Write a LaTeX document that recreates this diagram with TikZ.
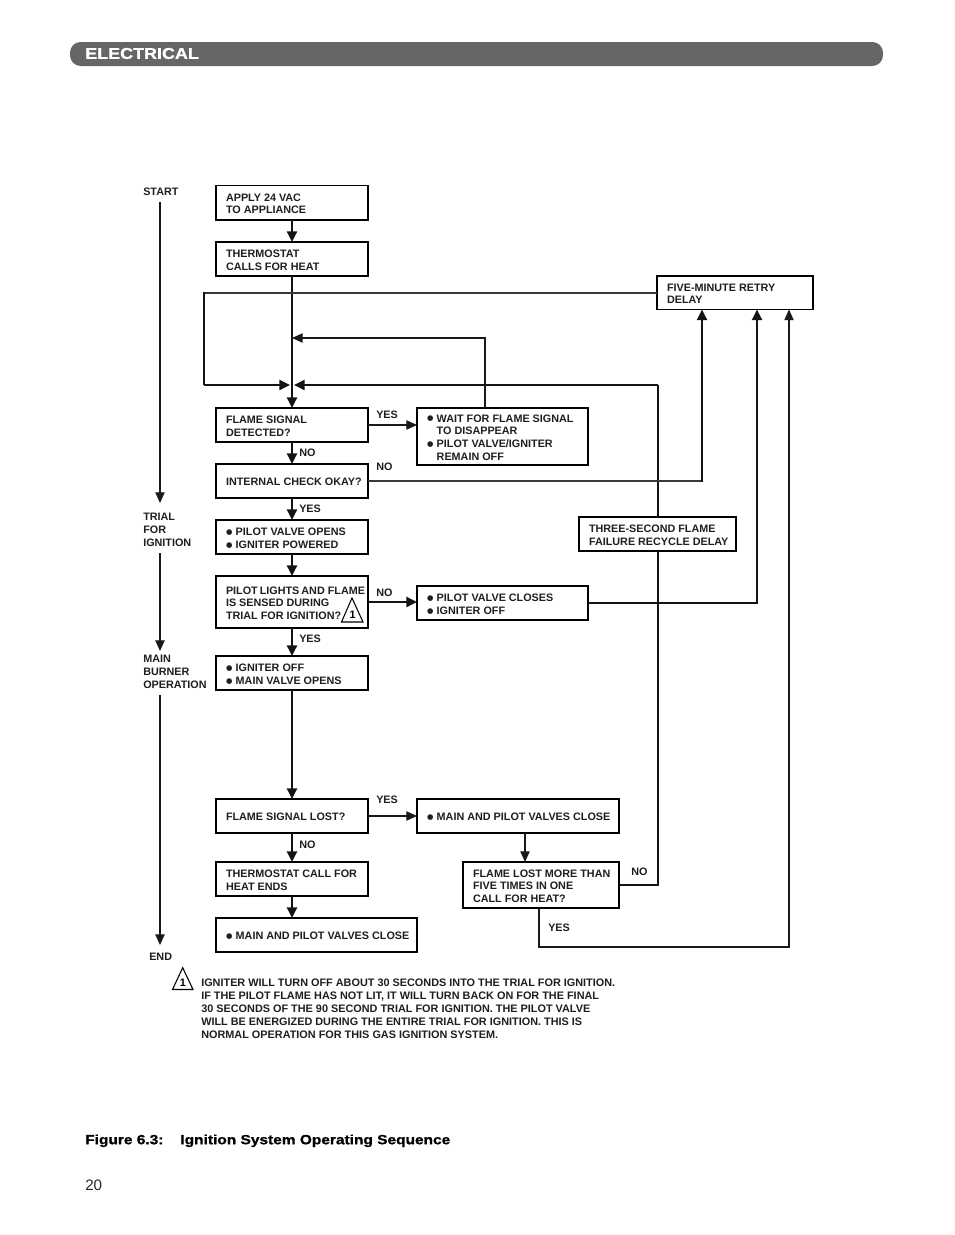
\documentclass[tikz,border=0pt]{standalone}
\usepackage{fontspec}
\setmainfont{Liberation Sans}
\newfontfamily\widefont[FakeStretch=1.15,FakeBold=1.2]{Liberation Sans Bold}
\newfontfamily\capfont[FakeStretch=1.16,FakeBold=1.0]{Liberation Sans Bold}
\newfontfamily\symfont{DejaVu Sans}
\usetikzlibrary{arrows.meta}
\newcommand{\bul}{\makebox[7.3pt][l]{\smash{\raisebox{0.9pt}{\symfont\fontsize{5.5pt}{6pt}\selectfont ●}}}}
\newcommand{\ind}{\hspace*{7.3pt}}
\newcommand{\bx}[7]{\pgfmathsetlengthmacro\bxtw{(#4-#2-20)*0.75pt}%
  \node[boxnode=#6,minimum width=(#4-#2)*0.75pt,minimum height=(#5-#3)*0.75pt] (#1) at ({(#2+#4)/2},{(#3+#5)/2})
  {\raisebox{-3.7pt}[0pt][0pt]{\makebox[\bxtw][l]{\begin{tabular}{@{}l@{}}#7\end{tabular}}}};}
\newcommand{\lbl}[4]{\node[lab] (#1) at (#2,#3) {#4};}
\tikzset{
  x=0.75pt,y=-0.75pt,
  every node/.style={font=\fontsize{8.1pt}{9.6pt}\selectfont\bfseries},
  boxnode/.style={draw=black,line width=#1,fill=white,inner sep=0pt,outer sep=0pt,text=black!88},
  lab/.style={anchor=west,inner sep=0pt,align=left,text=black!88},
  heavy/.style={line width=1.75pt,draw=black!92},
  heavyarrow/.style={heavy,-{Triangle[length=8pt,width=7.5pt]}},
  mid/.style={line width=1.5pt,draw=black!78},
  light/.style={line width=0.8pt,draw=black!90},
  lightarrow/.style={light,-{Triangle[length=8pt,width=7pt]}},
  tri/.style={line width=0.8pt,draw=black,line join=miter},
}
\begin{document}
\begin{tikzpicture}
\useasboundingbox[fill=white] (0,0) rectangle (954,1235);
% header
\node[fill=black!60,rounded corners=8pt,minimum width=813*0.75pt,minimum height=24*0.75pt,inner sep=0pt] (bar) at (476.5,54) {};
\node[anchor=west,inner sep=0pt,text=white,font=\widefont\fontsize{11.7pt}{15pt}\selectfont] (title) at (85,53.5) {ELECTRICAL};

% connector coordinates
\coordinate (startA) at (160,202);
\coordinate (startB) at (160,503);
\coordinate (trialA) at (160,553);
\coordinate (trialB) at (160,651);
\coordinate (mainA) at (160,695);
\coordinate (mainB) at (160,945);
\coordinate (jTop) at (292,338);
\coordinate (loopL) at (204,292.5);
\coordinate (loopLb) at (204,385);
\coordinate (waitOut) at (485,408);
\coordinate (threeTop) at (658,385);

% boxes
\bx{apply}{216}{185.5}{368}{220}{1.4pt}{APPLY 24 VAC\\TO APPLIANCE}
\bx{therm}{216}{242}{368}{276}{1.4pt}{THERMOSTAT\\CALLS FOR HEAT}
\bx{flame}{216}{408}{368}{442}{1.4pt}{FLAME SIGNAL\\DETECTED?}
\bx{internal}{216}{464}{368}{498}{1.2pt}{INTERNAL CHECK OKAY?}
\bx{pvopen}{216}{520}{368}{554}{1.4pt}{\bul PILOT VALVE OPENS\\\bul IGNITER POWERED}
\bx{plights}{216}{576}{368}{628}{1.4pt}{PILOT\hspace{1.5pt}LIGHTS\hspace{1.5pt}AND FLAME\\IS SENSED DURING\\TRIAL FOR IGNITION?}
\bx{igoff}{216}{656}{368}{690}{1.4pt}{\bul IGNITER OFF\\\bul MAIN VALVE OPENS}
\bx{lost}{216}{799}{368}{833}{1.4pt}{FLAME SIGNAL LOST?}
\bx{thend}{216}{862}{368}{896}{1.4pt}{THERMOSTAT CALL FOR\\HEAT ENDS}
\bx{finalclose}{216}{918}{417}{952}{1.4pt}{\bul MAIN AND PILOT VALVES CLOSE}
\bx{wait}{417}{408}{588}{465}{1.2pt}{\bul WAIT FOR FLAME SIGNAL\\\ind TO DISAPPEAR\\\bul PILOT VALVE/IGNITER\\\ind REMAIN OFF}
\bx{pvclose}{417}{586}{588}{620}{1.4pt}{\bul PILOT VALVE CLOSES\\\bul IGNITER OFF}
\bx{mainclose}{417}{799}{619}{833}{1.4pt}{\bul MAIN AND PILOT VALVES CLOSE}
\bx{more}{463}{862}{619}{908}{1.0pt}{FLAME LOST MORE THAN\\FIVE TIMES IN ONE\\CALL FOR HEAT?}
\bx{five}{657}{276}{813}{309.5}{0.9pt}{FIVE-MINUTE RETRY\\DELAY}
\bx{three}{579}{517}{736}{551}{1.4pt}{THREE-SECOND FLAME\\FAILURE RECYCLE DELAY}

% side labels
\lbl{lStart}{143}{191.5}{START}
\lbl{lTrial}{143}{530}{TRIAL\\FOR\\IGNITION}
\lbl{lMain}{143}{672}{MAIN\\BURNER\\OPERATION}
\lbl{lEnd}{149}{956.5}{END}

% branch labels
\lbl{y1}{376}{414.5}{YES}
\lbl{n1}{299}{453}{NO}
\lbl{n2}{376}{467}{NO}
\lbl{y2}{299}{508.5}{YES}
\lbl{n3}{376}{593}{NO}
\lbl{y3}{299}{639}{YES}
\lbl{y4}{376}{800}{YES}
\lbl{n4}{299}{844.5}{NO}
\lbl{n5}{631}{872}{NO}
\lbl{y5}{548}{928}{YES}

% timeline
\draw[lightarrow] (startA) -- (startB);
\draw[lightarrow] (trialA) -- (trialB);
\draw[lightarrow] (mainA) -- (mainB);

% main flow
\draw[heavyarrow] (apply) -- (therm);
\draw[heavyarrow] (therm) -- (flame);
\draw[heavyarrow] (flame) -- (internal);
\draw[heavyarrow] (internal) -- (pvopen);
\draw[heavyarrow] (pvopen) -- (plights);
\draw[heavyarrow] (plights) -- (igoff);
\draw[heavyarrow] (igoff) -- (lost);
\draw[heavyarrow] (lost) -- (thend);
\draw[heavyarrow] (thend) -- (thend |- finalclose.north);

% branches
\draw[lightarrow] (flame.east) -- (flame.east -| wait.west);
\draw[lightarrow] (lost) -- (mainclose);
\draw[heavyarrow] (plights) -- (plights -| pvclose.west);
\draw[lightarrow] (mainclose.south -| 525,0) -- (more.north -| 525,0);

% returns
\draw[lightarrow] (waitOut) |- (jTop);
\draw[mid,line join=miter] (five.west |- loopL) -- (loopL);
\draw[heavy,line join=miter] (204,291.8) -- (loopLb);
\draw[heavyarrow] (loopLb) -- (290,385);
\draw[heavyarrow] (threeTop) -- (294,385);
\draw[heavy] (three.north -| threeTop) -- (threeTop);
\draw[heavy,line join=miter] (more.east |- 0,885) -| (three.south -| threeTop);
\draw[mid] (internal.east) -- (702,481);
\draw[heavyarrow] (702,481.7) -- (five.south -| 702,0);
\draw[heavyarrow] (pvclose.east) -| (five.south -| 757,0);
\draw[lightarrow] (more.south -| 539,0) |- (789,947) -- (five.south -| 789,0);

% triangle marks
\draw[tri] (352,598) -- (341.5,622) -- (363,622) -- cycle;
\node[inner sep=0pt] (tri1) at (352.5,614.5) {1};
\draw[tri] (182.7,967.7) -- (172.5,989.5) -- (193,989.5) -- cycle;
\node[inner sep=0pt] (tri2) at (182.8,983) {1};

% note
\node[lab,font=\fontsize{8.15pt}{9.7pt}\selectfont\bfseries] (note) at (201,1008.5) {IGNITER WILL TURN OFF ABOUT 30 SECONDS INTO THE TRIAL FOR IGNITION.\\IF THE PILOT FLAME HAS NOT LIT, IT WILL TURN BACK ON FOR THE FINAL\\30 SECONDS OF THE 90 SECOND TRIAL FOR IGNITION. THE PILOT VALVE\\WILL BE ENERGIZED DURING THE ENTIRE TRIAL FOR IGNITION. THIS IS\\NORMAL OPERATION FOR THIS GAS IGNITION SYSTEM.};

% caption
\node[anchor=west,inner sep=0pt,font=\capfont\fontsize{10pt}{10pt}\selectfont] (caption) at (85,1140.8) {Figure 6.3:\hspace{12.7pt}Ignition System Operating Sequence};
\node[anchor=west,inner sep=0pt,text=black!85,font=\fontsize{11.4pt}{14pt}\selectfont\mdseries] (page) at (85,1185.5) {20};
\end{tikzpicture}
\end{document}
